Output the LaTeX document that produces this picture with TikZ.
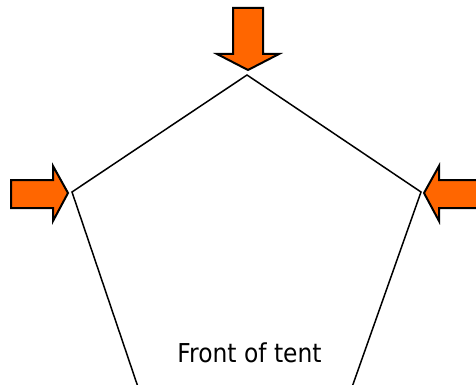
\documentclass[tikz,border=0pt]{standalone}
\usepackage{fontspec}
\setmainfont{DejaVu Sans}
\newfontfamily\labelfont[FakeStretch=0.9]{DejaVu Sans}
\definecolor{arroworange}{HTML}{FF6600}
\begin{document}
\begin{tikzpicture}[x=1pt,y=-1pt,
  tentline/.style={draw=black,line width=1.5pt},
  pusharrow/.style={draw=black,fill=arroworange,line width=2pt,line join=miter}]
\useasboundingbox (0,0) rectangle (476,385);
\clip (0,0) rectangle (476,385);
\coordinate (apex) at (247,75);
\coordinate (left) at (72,192);
\coordinate (right) at (421,192);
\coordinate (bl) at (139,390);
\coordinate (br) at (351,390);
\draw[tentline] (bl) -- (left) -- (apex) -- (right) -- (br);
% top arrow
\draw[pusharrow] (233,8) -- (263,8) -- (263,54) -- (279,54) -- (248,70) -- (217,54) -- (233,54) -- cycle;
% left arrow
\draw[pusharrow] (11,180) -- (53,180) -- (53,166) -- (68,193) -- (53,221) -- (53,208) -- (11,208) -- cycle;
% right arrow
\draw[pusharrow] (485,180) -- (439,180) -- (439,166) -- (424,193) -- (439,221) -- (439,208) -- (485,208) -- cycle;
\node[font=\labelfont\fontsize{26}{30}\selectfont,anchor=base,inner sep=0pt] (label) at (249.5,362) {Front of tent};
\end{tikzpicture}
\end{document}
